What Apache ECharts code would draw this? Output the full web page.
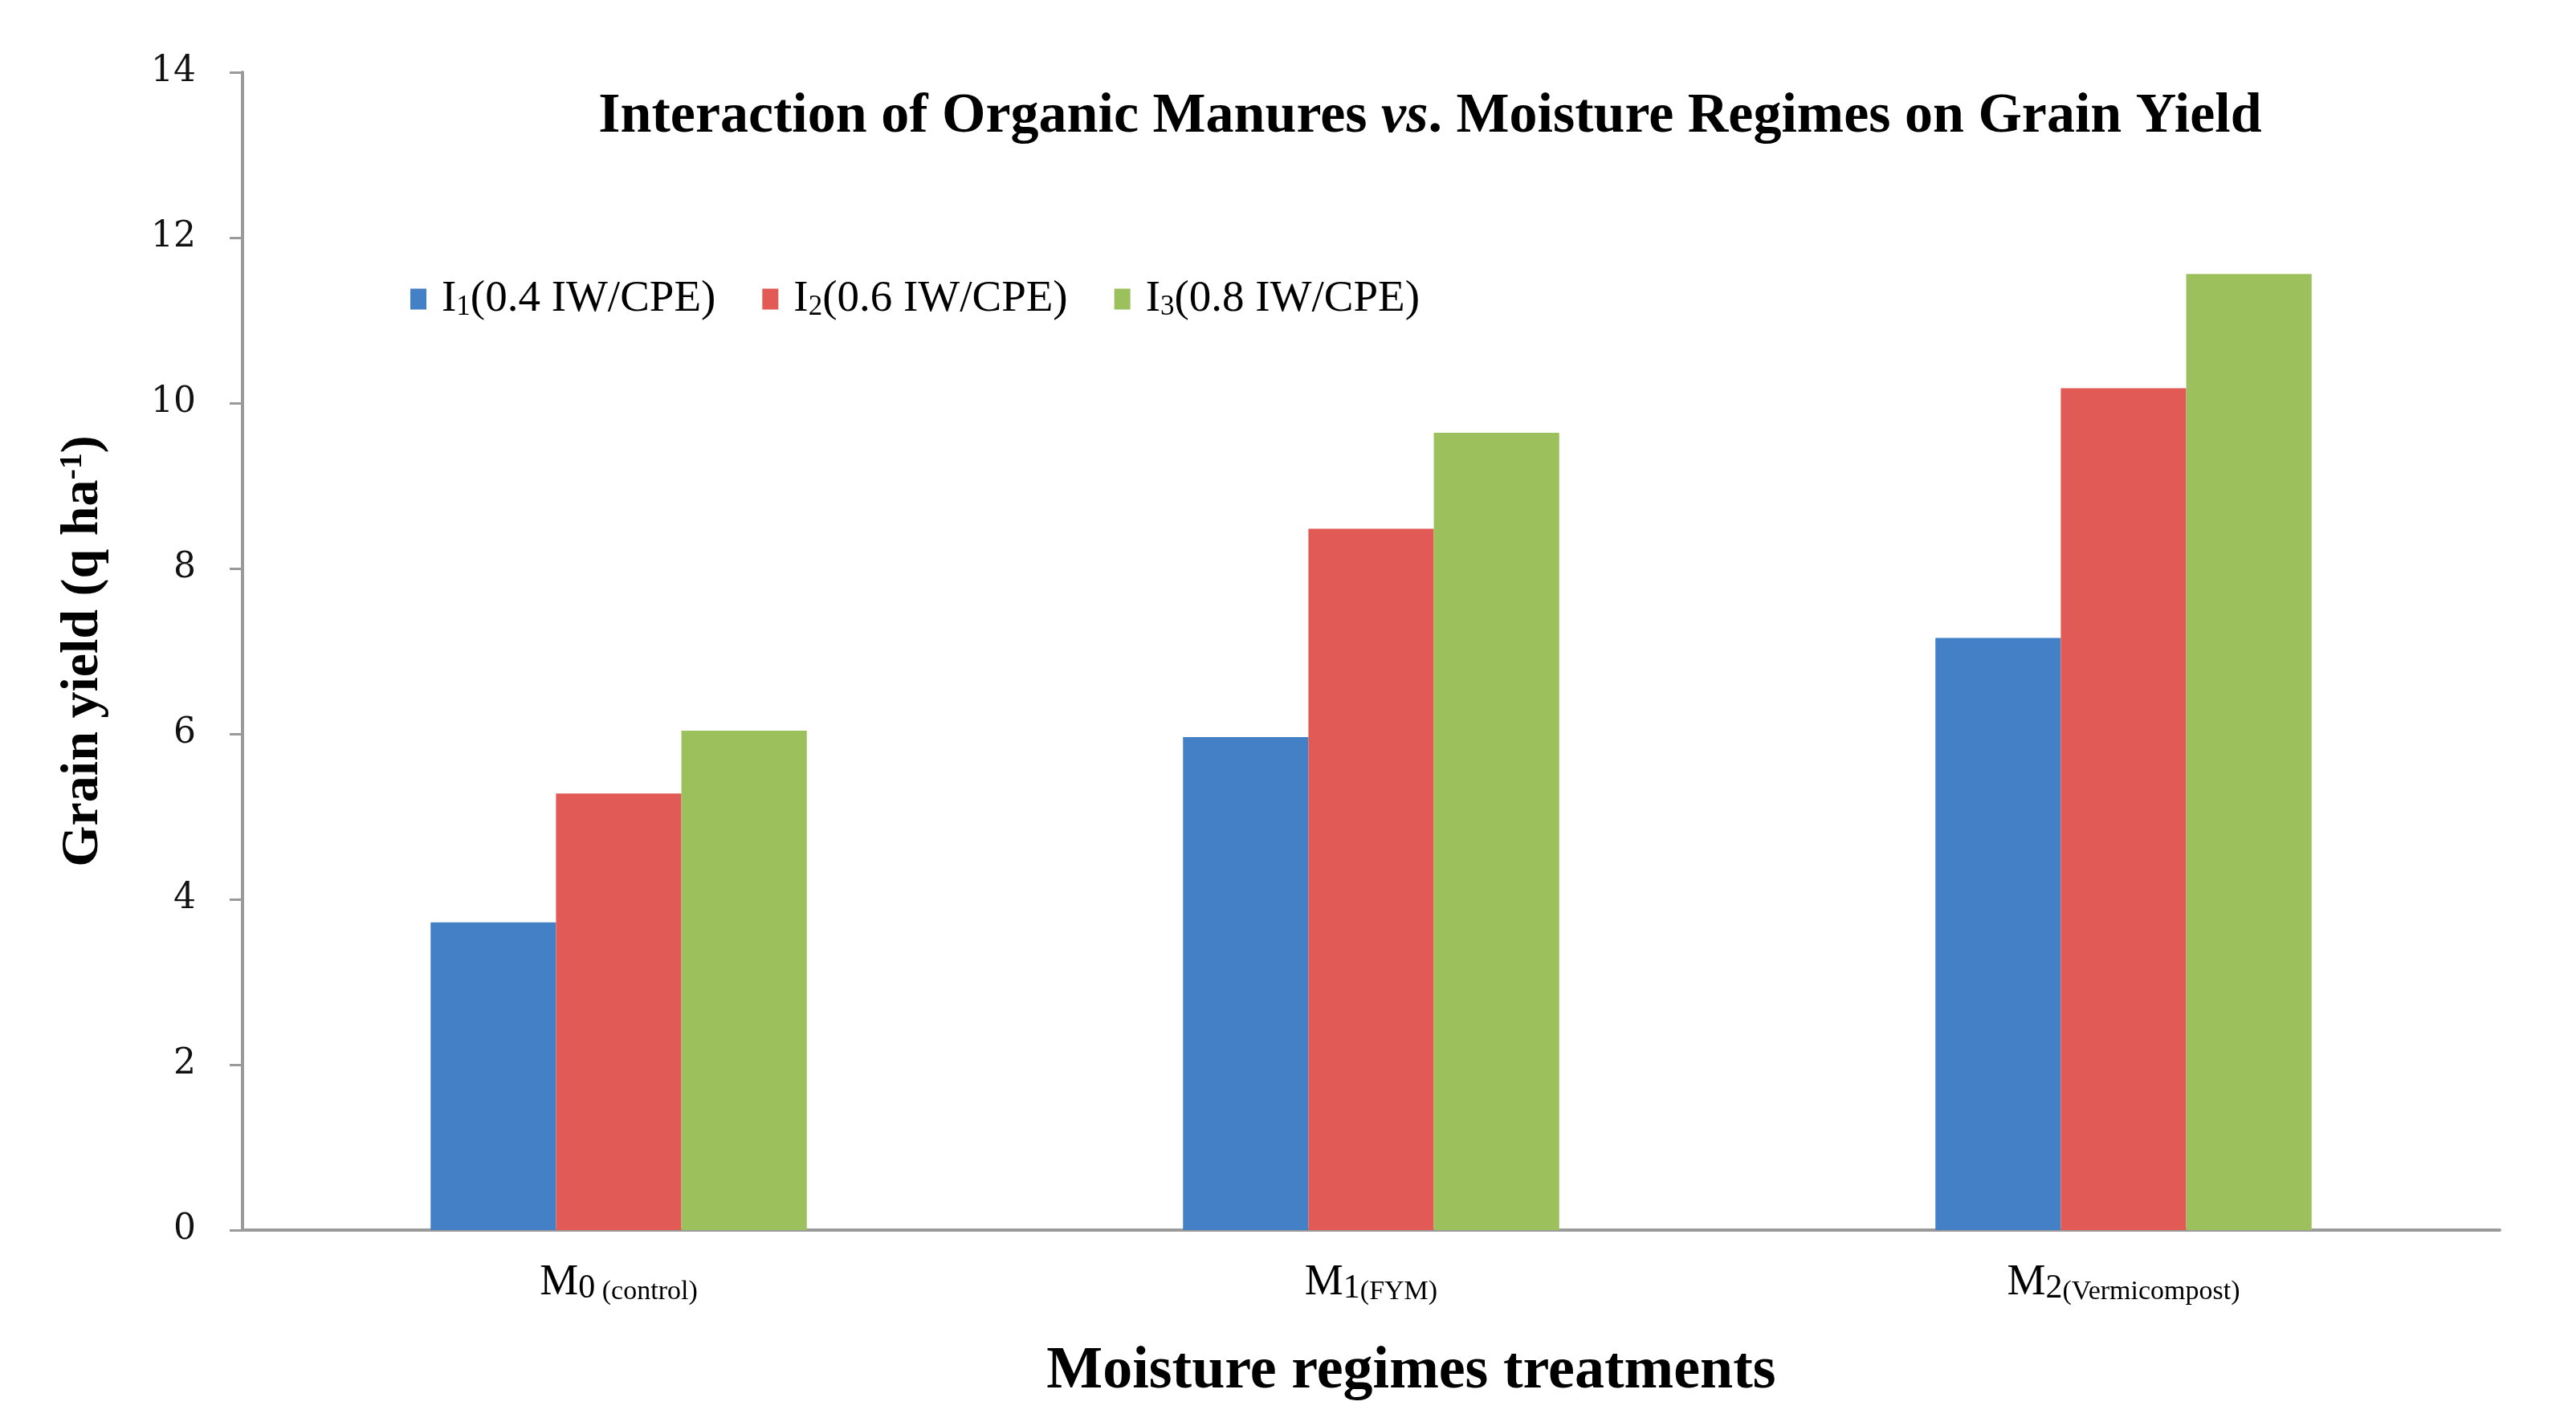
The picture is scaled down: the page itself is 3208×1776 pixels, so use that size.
<!DOCTYPE html>
<html><head><meta charset="utf-8">
<script src="https://cdn.jsdelivr.net/npm/echarts@6/dist/echarts.min.js"></script>
<style>html,body{margin:0;padding:0;background:#fff}#c{width:3208px;height:1776px}</style>
</head><body><div id="c"></div>
<script>
const categories = ['M0', 'M1', 'M2'];
const categorySubs = [' (control)', '(FYM)', '(Vermicompost)'];
const seriesNames = ['I1(0.4 IW/CPE)', 'I2(0.6 IW/CPE)', 'I3(0.8 IW/CPE)'];
const i1Values = [3.72, 5.96, 7.16];
const i2Values = [5.28, 8.48, 10.18];
const i3Values = [6.04, 9.64, 11.56];
const yTicks = [0, 2, 4, 6, 8, 10, 12, 14];

const colors = ['#4380C5', '#E15A55', '#9CC05B'];
const serif = 'Liberation Serif';
const chart = echarts.init(document.getElementById('c'));
const values = [i1Values, i2Values, i3Values];

chart.setOption({
  backgroundColor: '#ffffff',
  animation: false,
  title: {
    text: '{n|Interaction of Organic Manures }{i|vs}{n|. Moisture Regimes on Grain Yield}',
    left: 1776, top: 106, textAlign: 'center',
    textStyle: {
      rich: {
        n: {fontFamily: serif, fontWeight: 'bold', fontSize: 70, color: '#000'},
        i: {fontFamily: serif, fontWeight: 'bold', fontStyle: 'italic', fontSize: 70, color: '#000'}
      }
    }
  },
  legend: {
    left: 506, top: 340, icon: 'rect', itemWidth: 20, itemHeight: 26, itemGap: 58,
    data: seriesNames,
    formatter: function (name) {
      const m = name.match(/^I(\d)(.*)$/);
      return '{f|I}{s|' + m[1] + '}{a|' + m[2] + '}';
    },
    textStyle: {
      rich: {
        f: {fontFamily: serif, fontSize: 55, color: '#000', padding: [0, 0, 0, 14]},
        a: {fontFamily: serif, fontSize: 55, color: '#000'},
        s: {fontFamily: serif, fontSize: 35, color: '#000', padding: [20, 0, 0, 0]}
      }
    }
  },
  grid: {left: 302, right: 95, top: 90, bottom: 244, containLabel: false},
  xAxis: {
    type: 'category', data: categories,
    axisLine: {lineStyle: {color: '#9a9a9a', width: 4}},
    axisTick: {show: false},
    axisLabel: {
      margin: 38,
      formatter: function (v, idx) {
        return '{m|' + v.charAt(0) + '}{d|' + v.slice(1) + '}{s|' + categorySubs[idx] + '}';
      },
      rich: {
        m: {fontFamily: serif, fontSize: 54, color: '#000'},
        d: {fontFamily: serif, fontSize: 42, color: '#000', padding: [14, 0, 0, 0]},
        s: {fontFamily: serif, fontSize: 34, color: '#000', padding: [22, 0, 0, 0]}
      }
    },
    name: 'Moisture regimes treatments', nameLocation: 'middle', nameGap: 140,
    nameTextStyle: {fontFamily: serif, fontWeight: 'bold', fontSize: 74, color: '#000', padding: [0, 0, 0, 100]}
  },
  yAxis: {
    type: 'value', min: yTicks[0], max: yTicks[yTicks.length - 1], interval: 2,
    axisLine: {show: true, lineStyle: {color: '#9a9a9a', width: 4}},
    axisTick: {show: true, length: 16, lineStyle: {color: '#9a9a9a', width: 3}},
    splitLine: {show: false},
    axisLabel: {margin: 58, fontFamily: 'DejaVu Serif', fontSize: 44, color: '#111'},
    name: '{n|Grain yield (q ha}{p|-1}{n|)}', nameLocation: 'middle', nameGap: 165, nameRotate: 90,
    nameTextStyle: {
      rich: {
        n: {fontFamily: serif, fontWeight: 'bold', fontSize: 66, color: '#000'},
        p: {fontFamily: serif, fontWeight: 'bold', fontSize: 40, color: '#000', padding: [0, 0, 26, 0]}
      }
    }
  },
  series: seriesNames.map(function (n, i) {
    return {
      name: n, type: 'bar', data: values[i], barGap: '0%', barCategoryGap: '50%',
      itemStyle: {color: colors[i]}
    };
  })
});
</script></body></html>
